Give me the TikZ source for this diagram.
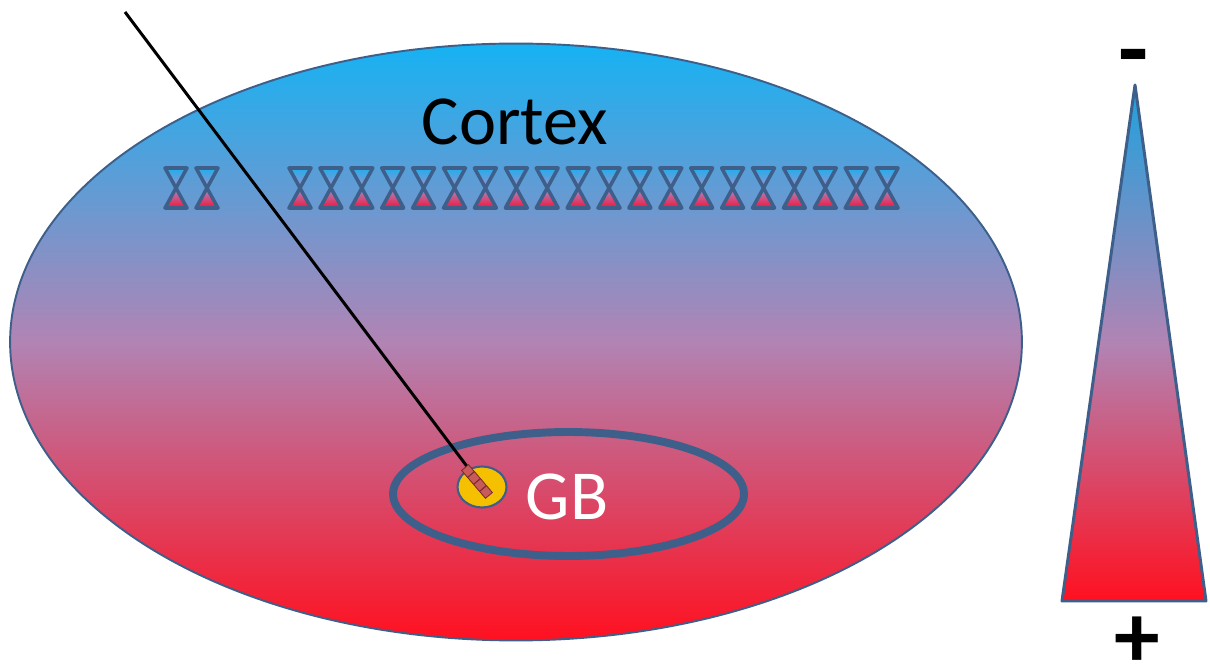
\documentclass[tikz,border=0pt]{standalone}
\usepackage{fontspec}
\setmainfont{Carlito}
\usetikzlibrary{shapes.geometric,calc}
\definecolor{edgeblue}{HTML}{3E5F8A}
\definecolor{ctop}{HTML}{16B2F3}
\definecolor{cmid}{HTML}{B184B4}
\definecolor{cbot}{HTML}{FF1020}
\definecolor{hgtop}{HTML}{1FAEEE}
\definecolor{hgmid}{HTML}{A48ECA}
\definecolor{hgbot}{HTML}{F5143A}
\definecolor{goldfill}{HTML}{F5C000}
\definecolor{beadfill}{HTML}{C85A5A}
\definecolor{beadedge}{HTML}{7A2E2E}
\tikzset{
  bigoval/.style={ellipse, draw=edgeblue, line width=1.1pt, top color=ctop, bottom color=cbot, middle color=cmid, minimum width=20.24cm, minimum height=11.94cm, inner sep=0pt},
  gboval/.style={ellipse, draw=edgeblue, line width=4.5pt, minimum width=7.02cm, minimum height=2.48cm, inner sep=0pt},
  goldoval/.style={ellipse, draw=edgeblue, line width=1.2pt, fill=goldfill, minimum width=0.98cm, minimum height=0.82cm, inner sep=0pt},
  bead/.style={rectangle, draw=beadedge, line width=0.5pt, fill=beadfill, minimum size=0.18cm, inner sep=0pt, rotate=40},
  bigtext/.style={font=\fontsize{40}{44}\selectfont, inner sep=0pt},
  signtext/.style={font=\bfseries\fontsize{56}{58}\selectfont, inner sep=0pt},
  hgline/.style={draw=edgeblue, line width=2pt, line join=round},
  hourglass/.pic={
    \shade[top color=hgtop, bottom color=hgmid] (-11,0) -- (11,0) -- (0,20) -- cycle;
    \shade[top color=hgmid, bottom color=hgbot] (0,20) -- (-11,40) -- (11,40) -- cycle;
    \draw[hgline] (-11,0) -- (11,0) -- (-11,40) -- (11,40) -- cycle;
  }
}
\begin{document}
\begin{tikzpicture}[x=0.02cm, y=-0.02cm]
\useasboundingbox (0,0) rectangle (1210,671);
% cortex oval
\node[bigoval] (cortex) at (516,342) {};
\node[bigtext] (cortexlabel) at (515,122) {Cortex};
% hourglasses
\foreach \i in {0,1} { \pic at ({176+31*\i},168) {hourglass}; }
\foreach \i in {0,...,19} { \pic at ({300+30.9*\i},168) {hourglass}; }
% GB oval
\node[gboval] (gb) at (568.5,494) {};
\node[goldoval] (gold) at (482,487) {};
\node[bigtext, text=white] (gblabel) at (567,497) {GB};
% electrode
\coordinate (etop) at (125,12);
\coordinate (etip) at (487,493);
\draw[black, line width=1.7pt] (etop) -- (etip);
\node[bead] (b1) at (468,471) {};
\node[bead] (b2) at (474,478) {};
\node[bead] (b3) at (480,485) {};
\node[bead] (b4) at (486,492) {};
% gradient triangle
\coordinate (tapex) at (1135,85);
\coordinate (tbl) at (1062,601);
\coordinate (tbr) at (1206,601);
\shade[top color=ctop!80!edgeblue, bottom color=cbot, middle color=cmid] (tapex) -- (tbr) -- (tbl) -- cycle;
\draw[edgeblue, line width=1.7pt, line join=round] (tapex) -- (tbr) -- (tbl) -- cycle;
\node[signtext] (minus) at (1134,66) {-};
\node[signtext, font=\bfseries\fontsize{52}{54}\selectfont] (plus) at (1137,642) {+};
\end{tikzpicture}
\end{document}
